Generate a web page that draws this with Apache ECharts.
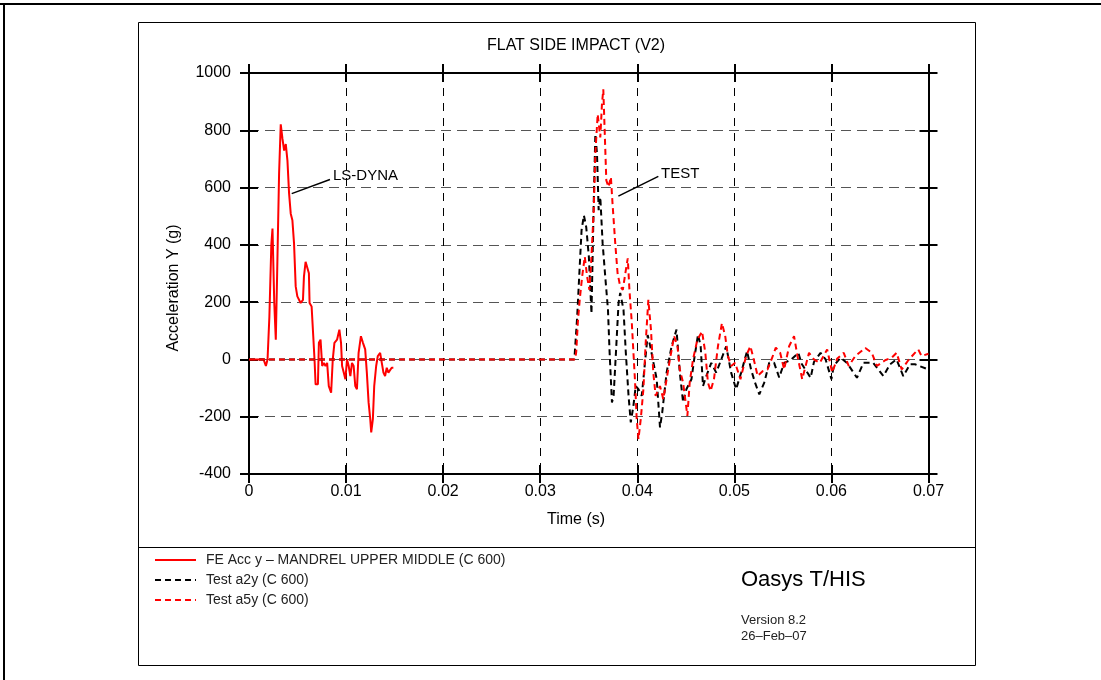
<!DOCTYPE html>
<html>
<head>
<meta charset="utf-8">
<title>FLAT SIDE IMPACT (V2)</title>
<script src="https://cdn.jsdelivr.net/npm/echarts@6/dist/echarts.min.js"></script>
<style>
	html, body { margin: 0; padding: 0; background: #fff; }
	#container { width: 1101px; height: 680px; }
</style>
</head>
<body>
<div id="container"></div>
<script>
// time axis (s) and tick labels
var timeTicks = [0, 0.01, 0.02, 0.03, 0.04, 0.05, 0.06, 0.07];
var accTicks = [-400, -200, 0, 200, 400, 600, 800, 1000];

// FE Acc y - MANDREL UPPER MIDDLE (LS-DYNA)
var feTime = [0, 0.0015, 0.00174, 0.00191, 0.0021, 0.0023, 0.00242, 0.0026, 0.00276, 0.0029,
	0.0031, 0.00327, 0.00345, 0.00362, 0.00379, 0.00396, 0.00413, 0.0043, 0.00447, 0.00464,
	0.00481, 0.00498, 0.00532, 0.00556, 0.00566, 0.00583, 0.006, 0.00617, 0.00624, 0.00645,
	0.00662, 0.00675, 0.00686, 0.0071, 0.0072, 0.00737, 0.00754, 0.00771, 0.00788, 0.00805,
	0.00822, 0.00846, 0.00863, 0.0088, 0.00907, 0.00931, 0.00948, 0.00959, 0.00976, 0.00993,
	0.0101, 0.01027, 0.01044, 0.01061, 0.01078, 0.01095, 0.01112, 0.01129, 0.01153, 0.01174,
	0.01197, 0.01214, 0.01232, 0.01249, 0.01259, 0.01276, 0.0129, 0.0131, 0.01327, 0.01351,
	0.01368, 0.01385, 0.01402, 0.01419, 0.01436, 0.01453, 0.0147, 0.01487];
var feAcc = [0, 0, -23, 0, 150, 400, 457, 200, 69, 300,
	650, 821, 770, 729, 752, 694, 579, 509, 486, 405,
	255, 220, 197, 208, 289, 341, 336, 301, 197, 185,
	81, 0, -87, -87, 58, 69, -23, -12, -23, -12,
	-93, -116, 0, 58, 69, 104, 58, -23, -46, -69,
	0, -23, -58, -12, -23, -93, -104, 23, 81, 58,
	35, -46, -150, -208, -255, -208, -93, -23, 12, 23,
	-12, -46, -58, -29, -46, -46, -29, -29];

// Test a2y
var a2yTime = [0, 0.0335, 0.03354, 0.03381, 0.03405, 0.03426, 0.0345, 0.03474, 0.03501, 0.03528,
	0.03551, 0.03568, 0.03585, 0.03602, 0.03619, 0.03643, 0.0367, 0.03698, 0.03715, 0.03739,
	0.03756, 0.0378, 0.03807, 0.03824, 0.03858, 0.03882, 0.0391, 0.03933, 0.0396, 0.03984,
	0.04012, 0.04046, 0.0408, 0.04107, 0.04131, 0.04148, 0.042, 0.04234, 0.04257, 0.04302,
	0.04353, 0.04404, 0.04438, 0.04472, 0.04506, 0.04558, 0.04591, 0.04626, 0.04653, 0.04677,
	0.04711, 0.04762, 0.04813, 0.04865, 0.04916, 0.04967, 0.05018, 0.0507, 0.05131, 0.05172,
	0.05213, 0.05257, 0.05308, 0.05359, 0.0541, 0.05462, 0.05513, 0.05581, 0.05659, 0.05693,
	0.05786, 0.0582, 0.05888, 0.0594, 0.06, 0.06024, 0.06093, 0.0616, 0.06263, 0.0633,
	0.0643, 0.06536, 0.06604, 0.0667, 0.0674, 0.06809, 0.0686, 0.07];
var a2yAcc = [0, 0, 11, 150, 312, 451, 503, 462, 359, 160,
	544, 787, 718, 521, 567, 405, 289, 174, 23, -150,
	-127, 23, 197, 232, 174, 23, -127, -220, -162, -93,
	-104, -127, -8, 85, 50, 46, -69, -237, -185, -46,
	46, 104, -46, -150, -104, -69, 12, 87, 46, -93,
	-58, -12, -46, 0, 46, -46, -104, -46, 29, -35,
	-81, -122, -81, -12, -12, -63, -12, -2, 23, -15,
	-64, -9, 23, 0, -69, -23, 6, -12, -64, -12,
	-12, -58, -17, 0, -58, -17, -17, -35];

// Test a5y
var a5yTime = [0, 0.0336, 0.03371, 0.03388, 0.03408, 0.03432, 0.03459, 0.03483, 0.03507, 0.03528,
	0.03551, 0.03568, 0.03592, 0.03619, 0.03636, 0.0365, 0.03664, 0.03681, 0.03704, 0.03728,
	0.03745, 0.03773, 0.03797, 0.03824, 0.03851, 0.03882, 0.03902, 0.03919, 0.03943, 0.0396,
	0.03977, 0.03994, 0.04012, 0.04036, 0.04063, 0.04087, 0.04114, 0.04141, 0.04165, 0.04189,
	0.04234, 0.04268, 0.04302, 0.04336, 0.0438, 0.04414, 0.04438, 0.04472, 0.04516, 0.0454,
	0.04574, 0.04619, 0.04667, 0.04701, 0.04728, 0.04755, 0.0479, 0.04831, 0.04872, 0.04906,
	0.04933, 0.04967, 0.05008, 0.05063, 0.05121, 0.05165, 0.052, 0.0524, 0.05291, 0.05342,
	0.05383, 0.05427, 0.05472, 0.05513, 0.05564, 0.05615, 0.05649, 0.05699, 0.05769, 0.0582,
	0.0588, 0.05956, 0.06008, 0.06058, 0.06127, 0.06178, 0.06246, 0.06349, 0.06416, 0.06468,
	0.06553, 0.06621, 0.06672, 0.06724, 0.06792, 0.0686, 0.06894, 0.06928, 0.07];
var a5yAcc = [0, 0, 26, 131, 212, 289, 359, 289, 243, 359,
	521, 718, 856, 775, 891, 943, 799, 625, 602, 637,
	544, 405, 301, 255, 243, 312, 353, 243, 131, 26,
	-78, -208, -278, -208, -104, 61, 208, 104, -46, -127,
	-93, -139, -69, 0, 81, 46, -35, -81, -197, -81,
	0, 69, 98, 23, -81, -110, -69, 46, 127, 81,
	12, -23, -12, -69, 12, 46, 0, -58, -41, -35,
	0, 41, 23, -35, 46, 81, 14, -69, 23, 0,
	-12, 35, -46, 2, 23, -23, 12, 40, 23, -23,
	-3, 6, 23, -35, -3, 23, 35, 12, 20];

// curve labels: [text, line start, line end, text anchor] in data units
var lsDynaNote = ['LS-DYNA', [0.0044, 579], [0.00834, 628], [0.00865, 642]];
var testNote = ['TEST', [0.03805, 570], [0.04217, 639], [0.04244, 649]];

var FONT = '"Liberation Sans", Arial, Helvetica, sans-serif';

function zip(xs, ys) {
	var out = [];
	for (var i = 0; i < xs.length; i++) out.push([xs[i], ys[i]]);
	return out;
}

function makeAxis(kind, pos, inside, main) {
	var ticks = kind === 'x' ? timeTicks : accTicks;
	var ax = {
		type: 'value',
		position: pos,
		min: ticks[0],
		max: ticks[ticks.length - 1],
		interval: ticks[1] - ticks[0],
		axisLine: { show: true, onZero: false, lineStyle: { color: '#000', width: 2 } },
		axisTick: { show: true, inside: inside, length: 9, lineStyle: { color: '#000', width: 2 } },
		axisLabel: { show: false },
		splitLine: { show: false }
	};
	if (main) {
		ax.axisLabel = {
			show: true,
			color: '#000',
			fontSize: 16,
			fontFamily: FONT,
			margin: kind === 'x' ? 10 : 18,
			formatter: function(v) {
				return kind === 'x' ? String(+v.toFixed(2)) : String(v);
			}
		};
		ax.splitLine = {
			show: true,
			lineStyle: kind === 'x'
				? { color: '#000', width: 1, type: [8, 7] }
				: { color: '#555', width: 1, type: [10, 6] }
		};
	}
	return ax;
}

var dom = document.getElementById("container");
var myChart = echarts.init(dom, null, { renderer: 'canvas' });

var option = {
	backgroundColor: '#fff',
	animation: false,
	grid: {
		left: 249,
		top: 73,
		right: 172.5,
		bottom: 206,
		containLabel: false
	},
	legend: {
		orient: 'vertical',
		left: 154,
		top: 553,
		padding: 0,
		itemWidth: 41,
		itemHeight: 14,
		itemGap: 6,
		selectedMode: false,
		itemStyle: { opacity: 0 },
		textStyle: { color: '#222', fontSize: 14, fontFamily: FONT, padding: [0, 0, 0, 5] },
		data: ['FE Acc y – MANDREL UPPER MIDDLE (C 600)', 'Test a2y (C 600)', 'Test a5y (C 600)']
	},
	xAxis: [
		makeAxis('x', 'bottom', false, true),
		makeAxis('x', 'bottom', true, false),
		makeAxis('x', 'top', false, false),
		makeAxis('x', 'top', true, false)
	],
	yAxis: [
		makeAxis('y', 'left', false, true),
		makeAxis('y', 'left', true, false),
		makeAxis('y', 'right', false, false),
		makeAxis('y', 'right', true, false)
	],
	series: [
		{
			name: 'FE Acc y – MANDREL UPPER MIDDLE (C 600)',
			type: 'line',
			showSymbol: false,
			symbol: 'none',
			lineStyle: { color: '#ff0000', width: 2 },
			itemStyle: { color: '#ff0000' },
			data: zip(feTime, feAcc),
			z: 3
		},
		{
			name: 'Test a2y (C 600)',
			type: 'line',
			showSymbol: false,
			symbol: 'none',
			lineStyle: { color: '#000', width: 2, type: [6, 4] },
			itemStyle: { color: '#000' },
			data: zip(a2yTime, a2yAcc),
			z: 4
		},
		{
			name: 'Test a5y (C 600)',
			type: 'line',
			showSymbol: false,
			symbol: 'none',
			lineStyle: { color: '#ff0000', width: 2, type: [6, 4] },
			itemStyle: { color: '#ff0000' },
			data: zip(a5yTime, a5yAcc),
			z: 5
		}
	]
};

myChart.setOption(option, true);

function noteGraphics(note) {
	var p1 = myChart.convertToPixel({ gridIndex: 0 }, note[1]);
	var p2 = myChart.convertToPixel({ gridIndex: 0 }, note[2]);
	var pt = myChart.convertToPixel({ gridIndex: 0 }, note[3]);
	return [{
		type: 'line',
		shape: { x1: p1[0], y1: p1[1], x2: p2[0], y2: p2[1] },
		style: { stroke: '#000', lineWidth: 1.5 },
		z: 10
	}, {
		type: 'text',
		x: pt[0],
		y: pt[1],
		style: { text: note[0], fill: '#000', font: '15px ' + FONT, textAlign: 'left', textVerticalAlign: 'middle' },
		z: 10
	}];
}

var graphics = [
	// outer page frame (top and left)
	{ type: 'rect', shape: { x: 0, y: 3, width: 1101, height: 2 }, style: { fill: '#000' } },
	{ type: 'rect', shape: { x: 3, y: 3, width: 2, height: 677 }, style: { fill: '#000' } },
	// plot box and legend divider
	{ type: 'rect', shape: { x: 138.5, y: 22.5, width: 837, height: 643 }, style: { fill: 'none', stroke: '#000', lineWidth: 1 }, z: -1 },
	{ type: 'line', shape: { x1: 138.5, y1: 547.5, x2: 975.5, y2: 547.5 }, style: { stroke: '#000', lineWidth: 1 } },
	// titles
	{ type: 'text', x: 576, y: 46, style: { text: 'FLAT SIDE IMPACT (V2)', fill: '#000', font: '16px ' + FONT, textAlign: 'center', textVerticalAlign: 'middle' } },
	{ type: 'text', x: 576, y: 520, style: { text: 'Time (s)', fill: '#000', font: '16px ' + FONT, textAlign: 'center', textVerticalAlign: 'middle' } },
	{ type: 'text', x: 174, y: 288, rotation: Math.PI / 2, style: { text: 'Acceleration Y (g)', fill: '#000', font: '16px ' + FONT, textAlign: 'center', textVerticalAlign: 'middle' } },
	// software stamp
	{ type: 'text', x: 741, y: 580, style: { text: 'Oasys T/HIS', fill: '#000', font: '22px ' + FONT, textAlign: 'left', textVerticalAlign: 'middle' } },
	{ type: 'text', x: 741, y: 620, style: { text: 'Version 8.2', fill: '#222', font: '13px ' + FONT, textAlign: 'left', textVerticalAlign: 'middle' } },
	{ type: 'text', x: 741, y: 636, style: { text: '26–Feb–07', fill: '#222', font: '13px ' + FONT, textAlign: 'left', textVerticalAlign: 'middle' } }
].concat(noteGraphics(lsDynaNote), noteGraphics(testNote));

myChart.setOption({ graphic: graphics });
</script>
</body>
</html>
